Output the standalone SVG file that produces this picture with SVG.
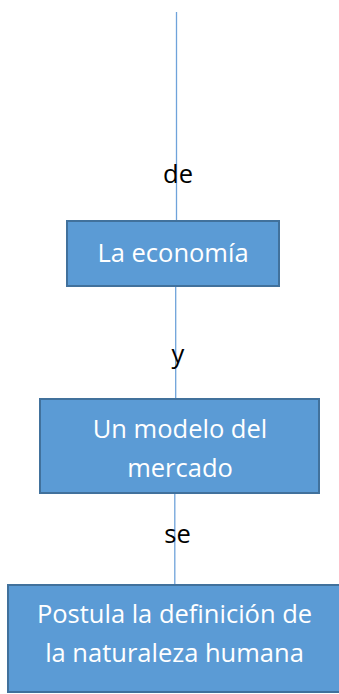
<svg xmlns="http://www.w3.org/2000/svg" width="339" height="694" viewBox="0 0 339 694">
<style>
.box{fill:#5B9BD5;stroke:#41719C;stroke-width:2}
.bt{font-family:"Open Sans","Liberation Sans",sans-serif;font-size:25.5px;fill:#FFFFFF;text-anchor:middle}
.lt{font-family:"Open Sans","Liberation Sans",sans-serif;font-size:25.5px;fill:#000000;text-anchor:middle}
.ln{stroke:#6FA3DA;stroke-width:1.3;fill:none}
</style>
<rect width="339" height="694" fill="#FFFFFF"/>
<g id="connectors">
<line class="ln" x1="176.5" y1="12" x2="176.5" y2="220"/>
<line class="ln" x1="175.7" y1="286" x2="175.7" y2="399"/>
<line class="ln" x1="174.8" y1="493" x2="174.8" y2="585"/>
<text class="lt" x="178" y="183">de</text>
<text class="lt" x="178" y="363">y</text>
<text class="lt" x="177.5" y="543">se</text>
</g>
<g id="n1">
<rect class="box" x="67" y="221" width="212" height="65"/>
<text class="bt" x="173" y="262">La economía</text>
</g>
<g id="n2">
<rect class="box" x="40" y="399" width="279" height="94"/>
<text class="bt" x="180" y="438">Un modelo del</text>
<text class="bt" x="180" y="477">mercado</text>
</g>
<g id="n3">
<rect class="box" x="8" y="585" width="336" height="107"/>
<text class="bt" x="174.5" y="623">Postula la definición de</text>
<text class="bt" x="174.5" y="662">la naturaleza humana</text>
</g>
</svg>
